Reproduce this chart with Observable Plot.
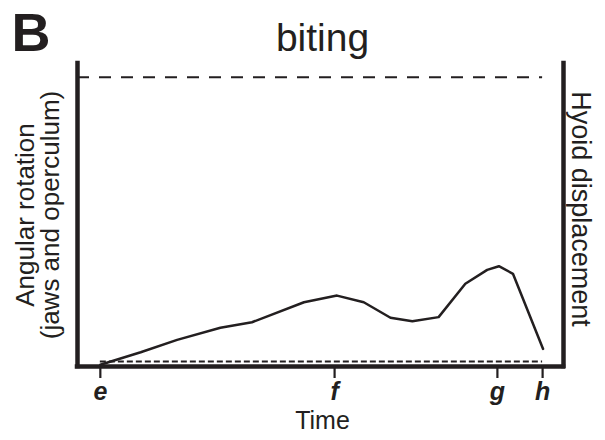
<!DOCTYPE html>
<html>
<head>
<meta charset="utf-8">
<script src="https://cdn.jsdelivr.net/npm/d3@7"></script>
<script src="https://cdn.jsdelivr.net/npm/@observablehq/plot@0.6"></script>
<style>
  html, body { margin: 0; padding: 0; background: #ffffff; }
  #chart { width: 605px; height: 440px; }
</style>
</head>
<body>
<div id="chart"></div>
<script>
// ---- data ----
const panelLetter = "B";
const titleText = "biting";
const leftLabel = "Angular rotation\n(jaws and operculum)";
const rightLabel = "Hyoid displacement";
const xLabel = "Time";

const tickLabels = ["e", "f", "g", "h"];
const tickTimes = [4.7, 52.9, 86.4, 95.7];

const curveTime  = [4.7, 13.0, 20.5, 29.4, 35.9, 46.6, 53.4, 58.9, 64.4, 68.9, 74.3, 79.8, 84.3, 86.7, 89.6, 95.8];
const curveAngle = [0.6, 4.7, 8.8, 12.8, 14.6, 21.2, 23.4, 21.2, 16.1, 14.9, 16.3, 27.3, 31.9, 33.1, 30.6, 5.8];

const restLevel = 1.65;   // short-dashed baseline
const maxLevel = 95.5;    // long-dashed upper level

const xDomain = [0, 100];
const yDomain = [0, 100];

// ---- build ----
const ink = "#231f20";
const font = "'Liberation Sans', Arial, Helvetica, sans-serif";
const curve = curveTime.map((t, i) => ({t, v: curveAngle[i]}));

const chart = Plot.plot({
  width: 605,
  height: 440,
  marginLeft: 77,
  marginRight: 42,
  marginTop: 63,
  marginBottom: 74,
  x: {domain: xDomain, axis: null},
  y: {domain: yDomain, axis: null},
  style: {fontFamily: font, background: "#ffffff", color: ink, overflow: "visible"},
  marks: [
    // long dashed upper level
    Plot.ruleY([maxLevel], {x1: xDomain[0], x2: tickTimes[3], stroke: ink, strokeWidth: 2, strokeDasharray: "12,10"}),
    // short dashed rest level
    Plot.ruleY([restLevel], {x1: tickTimes[0], x2: tickTimes[3], stroke: ink, strokeWidth: 2, strokeDasharray: "6,3"}),
    // the curve
    Plot.line(curve, {x: "t", y: "v", stroke: ink, strokeWidth: 2.5, strokeLinejoin: "round"}),
    // frame: left, right, bottom
    Plot.ruleX([xDomain[0], xDomain[1]], {y1: yDomain[0], y2: yDomain[1], stroke: ink, strokeWidth: 4.5, strokeLinecap: "square"}),
    Plot.ruleY([yDomain[0]], {x1: xDomain[0], x2: xDomain[1], stroke: ink, strokeWidth: 4.5, strokeLinecap: "square"}),
    // x axis ticks & labels
    Plot.axisX({
      ticks: tickTimes,
      tickFormat: d => tickLabels[tickTimes.indexOf(d)],
      tickSize: 12,
      tickPadding: 4,
      stroke: ink,
      strokeWidth: 2.2,
      fill: ink,
      fontSize: 25,
      fontWeight: "bold",
      fontStyle: "italic",
      label: null
    }),
    // x label
    Plot.text([xLabel], {frameAnchor: "bottom", dx: 2, dy: 54, fontSize: 25, fill: ink, lineAnchor: "middle"}),
    // title
    Plot.text([titleText], {frameAnchor: "top", dx: 2, dy: -25, fontSize: 39, fill: ink, lineAnchor: "middle"}),
    // panel letter
    Plot.text([panelLetter], {frameAnchor: "top-left", textAnchor: "start", dx: -66, dy: -30, fontSize: 54, fontWeight: "bold", fill: ink, lineAnchor: "middle"}),
    // left label (two lines)
    Plot.text([leftLabel], {frameAnchor: "left", rotate: -90, dx: -39, dy: 0, fontSize: 26, lineHeight: 0.95, fill: ink, lineAnchor: "middle", textAnchor: "middle"}),
    // right label
    Plot.text([rightLabel], {frameAnchor: "right", rotate: 90, dx: 17, dy: -6, fontSize: 27, fill: ink, lineAnchor: "middle", textAnchor: "middle"})
  ]
});

document.getElementById("chart").appendChild(chart);
</script>
</body>
</html>
